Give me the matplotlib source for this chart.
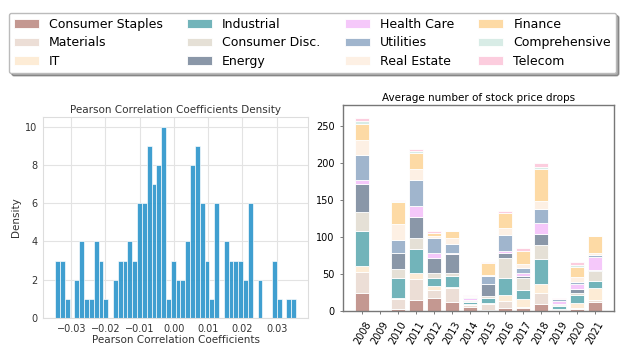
import matplotlib as mpl
mpl.use("Agg")
import matplotlib.pyplot as plt
import numpy as np

# ---- histogram data (counts per bin) ----
pearson_counts = [3, 3, 1, 0, 2, 4, 1, 1, 4, 3,
                  1, 0, 2, 3, 3, 4, 3, 6, 6, 9,
                  7, 8, 10, 1, 3, 2, 2, 4, 8, 9,
                  6, 3, 1, 6, 0, 4, 3, 3, 3, 2,
                  6, 0, 2, 0, 0, 3, 1, 0, 1, 1]
pearson_lo = -0.0347
pearson_hi = 0.0357

# ---- stacked bar data ----
years = ["2008", "2009", "2010", "2011", "2012", "2013", "2014",
         "2015", "2016", "2017", "2018", "2019", "2020", "2021"]
consumer_staples = [25, 0, 3, 15, 18, 12, 5, 2, 4, 4, 10, 1, 3, 12]
materials        = [28, 0, 13, 29, 11, 19, 3, 8, 9, 2, 14, 1, 1, 3]
it               = [8, 0, 1, 8, 5, 1, 2, 1, 9, 10, 13, 1, 7, 16]
industrial       = [48, 1, 28, 32, 11, 15, 2, 6, 23, 12, 34, 4, 11, 10]
consumer_disc    = [25, 0, 12, 15, 6, 5, 2, 3, 27, 17, 19, 1, 2, 13]
energy           = [38, 1, 22, 28, 21, 25, 1, 17, 6, 3, 14, 2, 6, 2]
health_care      = [6, 0, 0, 15, 6, 1, 3, 0, 3, 3, 15, 3, 6, 17]
utilities        = [33, 0, 17, 35, 21, 13, 1, 11, 22, 7, 19, 3, 3, 3]
real_estate      = [21, 0, 22, 15, 2, 8, 1, 1, 9, 5, 11, 0, 7, 3]
finance          = [21, 0, 30, 22, 4, 10, 0, 16, 21, 18, 43, 0, 14, 23]
comprehensive    = [5, 0, 1, 3, 1, 0, 0, 0, 0, 0, 3, 0, 2, 0]
telecom          = [3, 0, 2, 3, 3, 0, 2, 1, 2, 5, 5, 1, 4, 0]

sectors = ["Consumer Staples", "Materials", "IT", "Industrial", "Consumer Disc.",
           "Energy", "Health Care", "Utilities", "Real Estate", "Finance",
           "Comprehensive", "Telecom"]
sector_vals = [consumer_staples, materials, it, industrial, consumer_disc, energy,
               health_care, utilities, real_estate, finance, comprehensive, telecom]
sector_colors = ["#c49891", "#ecded6", "#fdecd6", "#72b4ba", "#e5e0d6", "#8a97a8",
                 "#f5c8fa", "#a0b5cd", "#fdf0e4", "#fddaa5", "#d8ece6", "#fccdde"]

fig = plt.figure(figsize=(6.25, 3.62), dpi=100)

# ---- left: histogram, seaborn-like whitegrid ----
ax1 = fig.add_axes([0.069, 0.1215, 0.424, 0.555])
edges = np.linspace(pearson_lo, pearson_hi, len(pearson_counts) + 1)
ax1.bar(edges[:-1], pearson_counts, width=np.diff(edges), align="edge",
        color="#2f97cc", alpha=0.92, edgecolor="white", linewidth=0.5, zorder=2)
ax1.set_axisbelow(True)
ax1.grid(color="#e3e3e3", linewidth=0.8)
for s in ax1.spines.values():
    s.set_color("#dddddd")
    s.set_linewidth(0.8)
ax1.tick_params(length=0, labelsize=7, colors="#333333", pad=4)
ax1.set_yticks([0, 2, 4, 6, 8, 10])
ax1.set_title("Pearson Correlation Coefficients Density", fontsize=7.5, color="#333333", pad=3)
ax1.set_xlabel("Pearson Correlation Coefficients", fontsize=7.5, color="#333333", labelpad=1)
ax1.set_ylabel("Density", fontsize=7.5, color="#333333", labelpad=3)

# ---- right: stacked bars ----
ax2 = fig.add_axes([0.549, 0.1409, 0.4336, 0.569])
x = np.arange(len(years))
bottom = np.zeros(len(years))
handles = []
for name, vals, col in zip(sectors, sector_vals, sector_colors):
    b = ax2.bar(x, vals, 0.78, bottom=bottom, color=col, edgecolor="white",
                linewidth=0.6, label=name)
    handles.append(b)
    bottom += np.array(vals)
ax2.set_xticks(x)
ax2.set_xticklabels(years, rotation=60)
ax2.set_yticks([0, 50, 100, 150, 200, 250])
ax2.set_ylim(0, 279)
ax2.tick_params(labelsize=7, length=2.5, width=0.6, color="#666666")
for s in ax2.spines.values():
    s.set_color("#777777")
    s.set_linewidth(1.0)
ax2.set_title("Average number of stock price drops", fontsize=7.5, pad=3)

leg = fig.legend(handles=handles, labels=sectors, ncol=4, loc="upper center",
                 bbox_to_anchor=(0.5, 0.982), fontsize=9, shadow=True, fancybox=True,
                 labelspacing=0.45, columnspacing=1.95, handlelength=2.0,
                 borderpad=0.4, framealpha=1.0)
leg.get_frame().set_edgecolor("#bbbbbb")

fig.savefig("out.png", dpi=100)
